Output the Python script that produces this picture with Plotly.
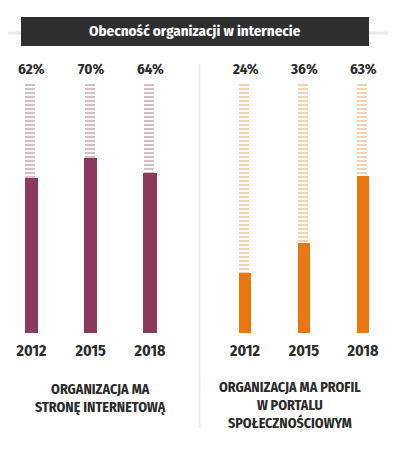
import plotly.graph_objects as go

years = ["2012", "2015", "2018"]
website = [62, 70, 64]
social = [24, 36, 63]
full = [100, 100, 100]
title_text = "Obecność organizacji w internecie"
label_left = ["ORGANIZACJA MA", "STRONĘ INTERNETOWĄ"]
label_right = ["ORGANIZACJA MA PROFIL", "W PORTALU", "SPOŁECZNOŚCIOWYM"]

FONT = "Fira Sans Condensed, DejaVu Sans Condensed, Liberation Sans Narrow, Roboto Condensed, Roboto, sans-serif"
DARK = "#2b2b2b"
MAROON = "#8c3a5b"
MAROON_L = "#ad7990"
ORANGE = "#e9770f"
ORANGE_L = "#e8a668"

# the page body has an 8px margin: the figure is laid out in page pixels
OFF = 8
W, H = 398 - OFF, 456 - OFF


def px(x):
    return max(0.0, min(1.0, (x - OFF) / W))


def py(y):
    return max(0.0, min(1.0, 1 - (y - OFF) / H))


# category spacing / first-category centre (page px) for each panel
S1, C1 = 59.25, 31.5
S2, C2 = 59.0, 245.0
L1, R1 = 10.0, 182.0
L2, R2 = 214.0, 396.0

fig = go.Figure()

groups = [
    (website, MAROON, MAROON_L, "x", "y"),
    (social, ORANGE, ORANGE_L, "x2", "y2"),
]
for vals, col, light, xa, ya in groups:
    fig.add_trace(go.Bar(
        x=years, y=full, xaxis=xa, yaxis=ya, width=0.17, offset=-0.105,
        marker=dict(color=light, line=dict(width=0),
                    pattern=dict(shape="-", fgcolor=light, bgcolor="white",
                                 size=4, solidity=0.5)),
        hoverinfo="skip", showlegend=False))
    fig.add_trace(go.Bar(
        x=years, y=vals, xaxis=xa, yaxis=ya, width=0.22,
        marker=dict(color=col, line=dict(width=0)),
        showlegend=False))
    for i, v in enumerate(vals):
        fig.add_annotation(x=i, y=100, xref=xa, yref=ya, text=f"{v}%",
                           showarrow=False, yanchor="bottom", yshift=3,
                           font=dict(family=FONT, size=15, color=DARK, weight="bold"))

ax_common = dict(type="category", showgrid=False, zeroline=False, showline=False,
                 ticks="", ticklabelstandoff=6,
                 tickfont=dict(family=FONT, size=16, color=DARK, weight="bold"),
                 fixedrange=True)
ay_common = dict(range=[0, 100], showgrid=False, zeroline=False, showline=False,
                 showticklabels=False, domain=[py(333), py(83)], fixedrange=True)

fig.update_layout(
    width=W, height=H,
    margin=dict(l=0, r=0, t=0, b=0),
    paper_bgcolor="white", plot_bgcolor="rgba(0,0,0,0)",
    barmode="overlay", bargap=0,
    xaxis=dict(ax_common, domain=[px(L1), px(R1)], anchor="y",
               range=[(L1 - C1) / S1, (R1 - C1) / S1]),
    xaxis2=dict(ax_common, domain=[px(L2), px(R2)], anchor="y2",
                range=[(L2 - C2) / S2, (R2 - C2) / S2]),
    yaxis=dict(ay_common, anchor="x"),
    yaxis2=dict(ay_common, anchor="x2"),
)

# decorations
fig.add_shape(type="line", xref="paper", yref="paper",
              x0=px(7), x1=px(388), y0=py(33), y1=py(33),
              line=dict(color="#e9e9e9", width=3), layer="below")
fig.add_shape(type="rect", xref="paper", yref="paper",
              x0=px(21), x1=px(369), y0=py(46), y1=py(17),
              fillcolor="#2f2f2f", line=dict(width=0))
fig.add_shape(type="line", xref="paper", yref="paper",
              x0=px(199.5), x1=px(199.5), y0=py(428), y1=py(64),
              line=dict(color="#eeeeee", width=2), layer="below")

fig.add_annotation(x=px(195), y=py(31.5), xref="paper", yref="paper",
                   text=title_text, showarrow=False, xanchor="center", yanchor="middle",
                   font=dict(family=FONT, size=15, color="white", weight="bold"))

for cx, cy, lines in ((100, 398, label_left), (290, 405.5, label_right)):
    fig.add_annotation(x=px(cx), y=py(cy), xref="paper", yref="paper",
                       text="<br>".join(lines), showarrow=False, align="center",
                       xanchor="center", yanchor="middle", borderpad=0,
                       font=dict(family=FONT, size=14, color=DARK, weight="bold"))

fig.write_html("out.html")
